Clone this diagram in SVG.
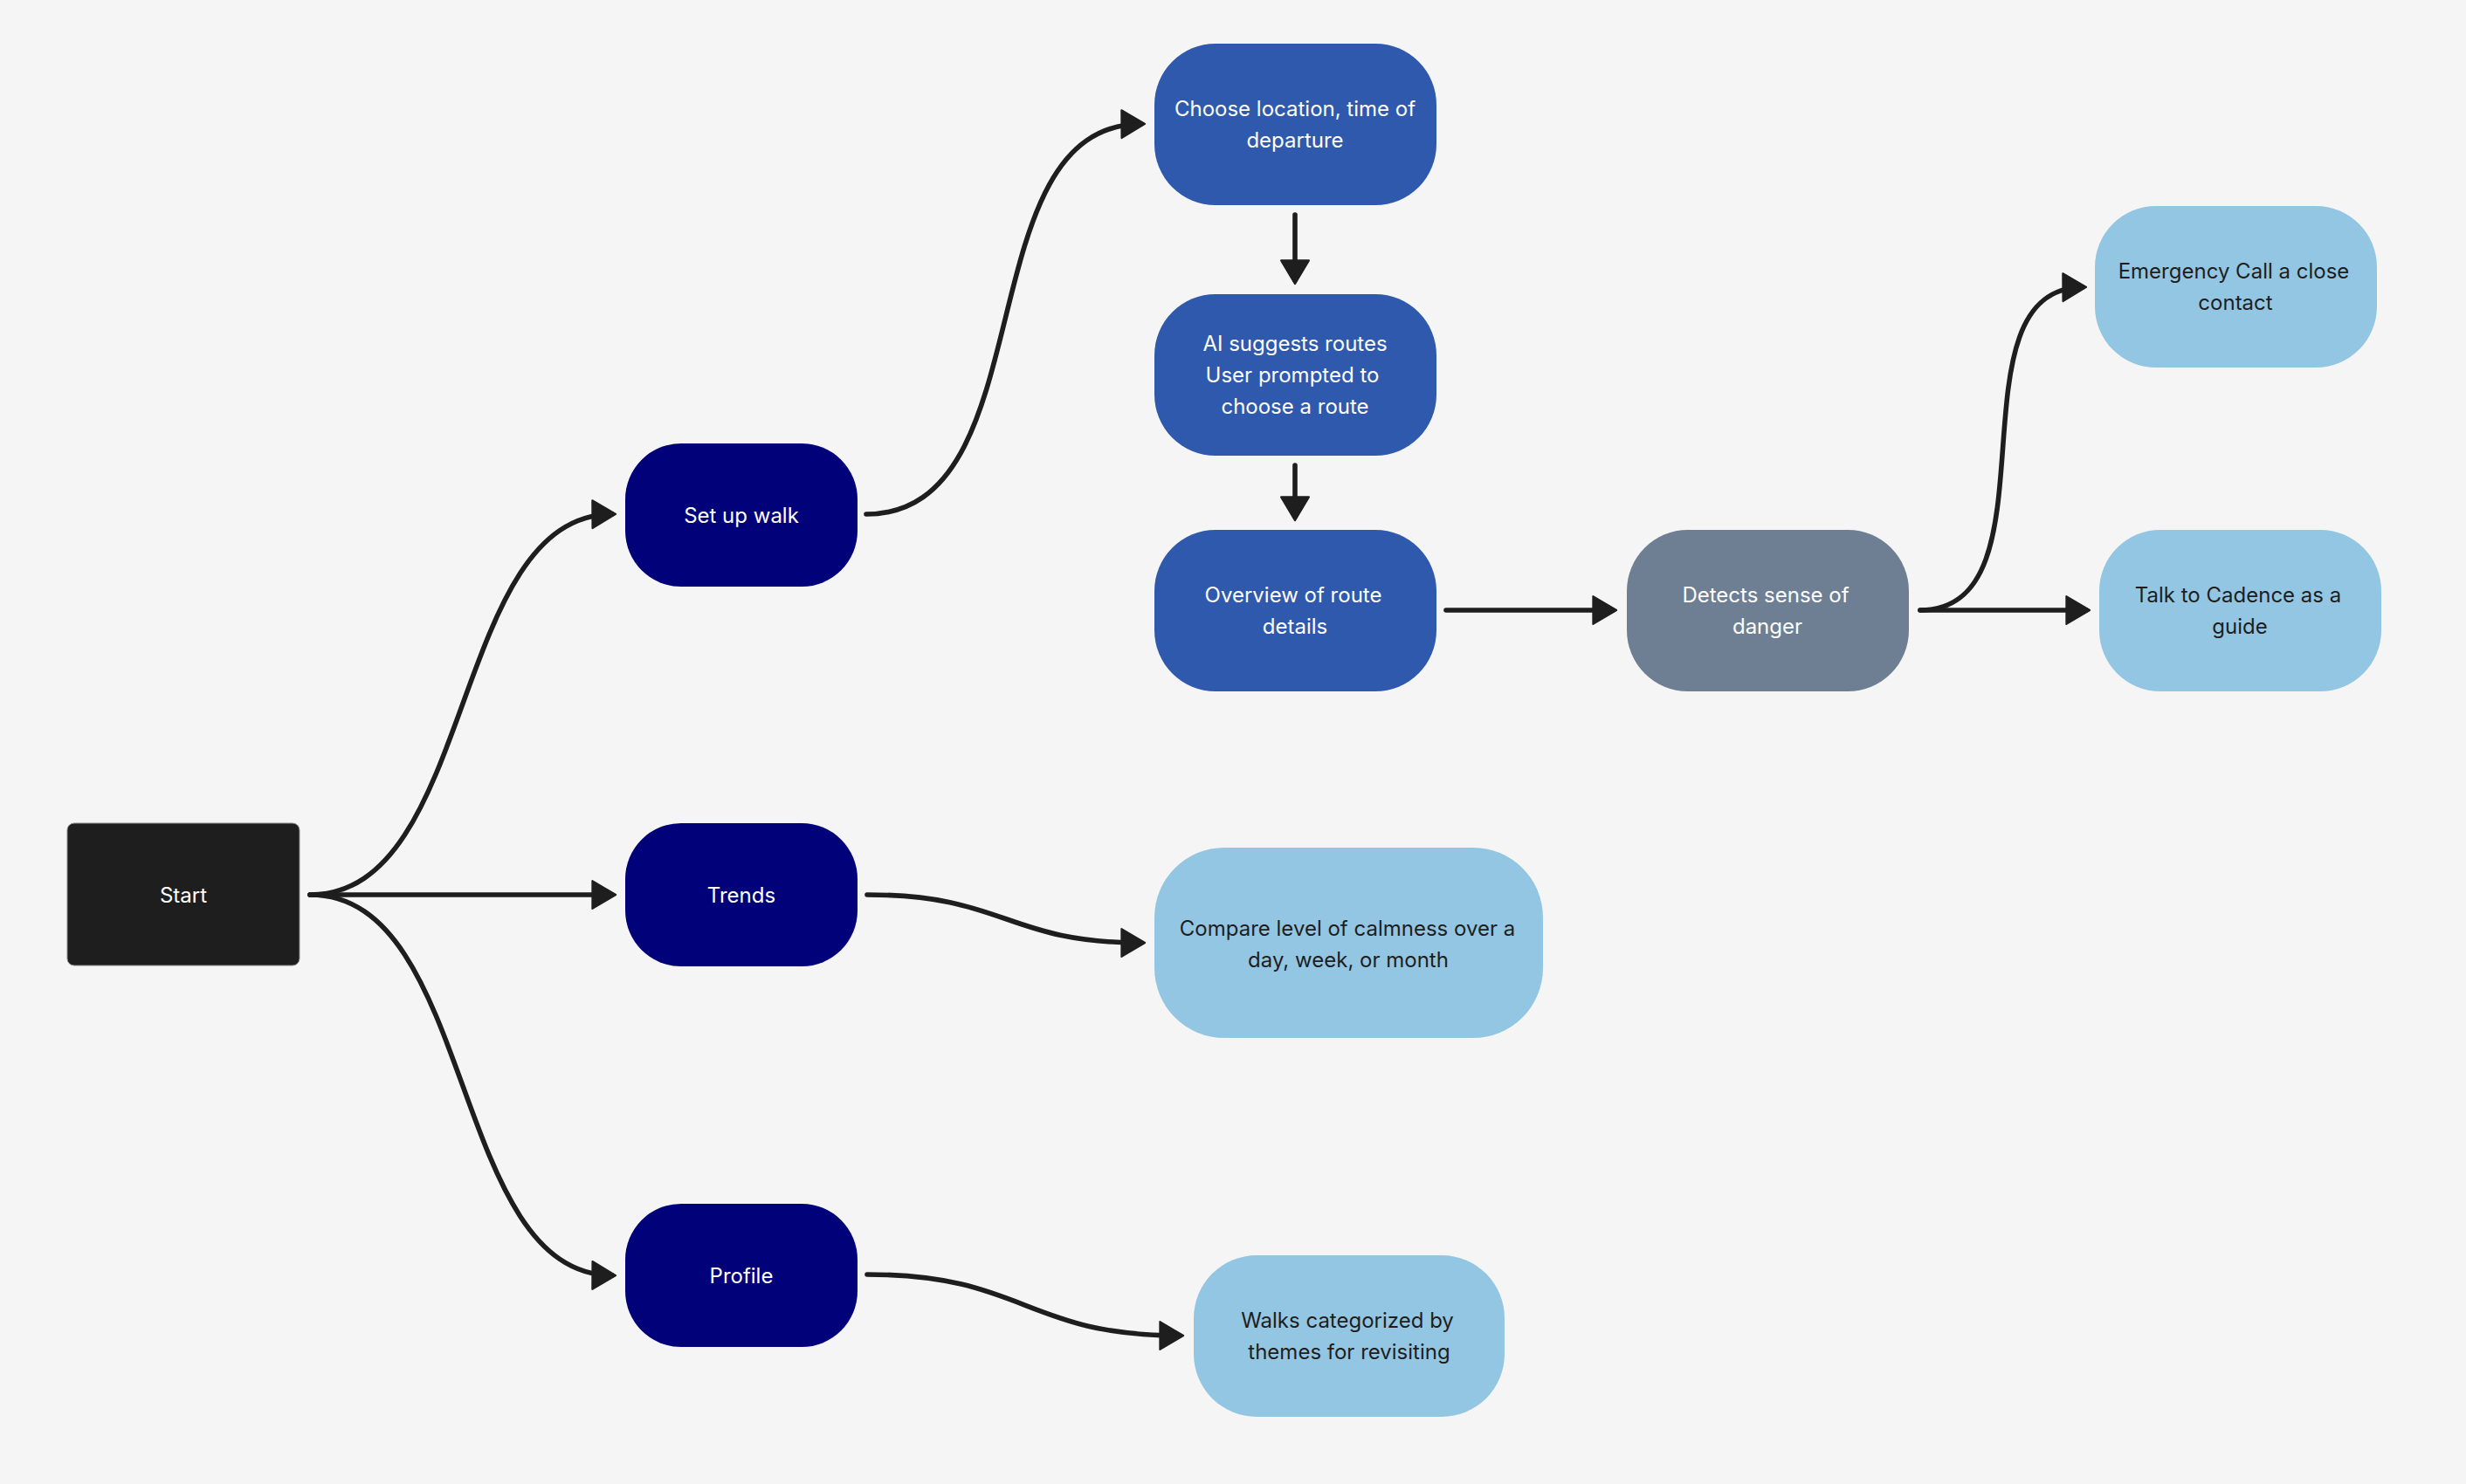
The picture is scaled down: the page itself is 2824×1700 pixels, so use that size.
<svg xmlns="http://www.w3.org/2000/svg" width="2824" height="1700" viewBox="0 0 2824 1700">
<defs>
<style>
.lbl{font-family:Inter,"Noto Sans","Liberation Sans",sans-serif;font-size:24px;text-anchor:middle;dominant-baseline:central}
.w{fill:#ffffff}
.d{fill:#1e1e1e}
.navy{fill:#01017a}
.mid{fill:#2e59ad}
.grey{fill:#6e7f94}
.light{fill:#93c6e2}
.edge{fill:none;stroke:#1e1e1e;stroke-width:5.6;stroke-linecap:round;marker-end:url(#arr)}
</style>
<marker id="arr" markerUnits="userSpaceOnUse" markerWidth="32" markerHeight="36" viewBox="-2 -2 30 35" refX="22" refY="15.5" orient="auto">
<path d="M0,0 L26,15.5 L0,31 Z" fill="#1e1e1e" stroke="#1e1e1e" stroke-width="2" stroke-linejoin="round"/>
</marker>
</defs>
<rect width="2824" height="1700" fill="#f5f5f5"/>
<g id="connectors">
<path class="edge" d="M355,1025 C545,1025 515,590 701,589"/>
<path class="edge" d="M355,1025 L701,1025"/>
<path class="edge" d="M355,1025 C545,1025 515,1460 701,1461"/>
<path class="edge" d="M992,589 C1199,589 1104,143 1307,142"/>
<path class="edge" d="M1483,246 L1483,321"/>
<path class="edge" d="M1483,533 L1483,592"/>
<path class="edge" d="M1656,699 L1847,699"/>
<path class="edge" d="M2199,699 C2360,699 2228,330 2385,329"/>
<path class="edge" d="M2199,699 L2389,699"/>
<path class="edge" d="M993,1025 C1152,1025 1152,1080 1307,1080"/>
<path class="edge" d="M993,1460 C1174,1460 1174,1530 1351,1530"/>
</g>
<g id="start">
<rect x="77" y="943" width="266" height="163" rx="8" fill="#1e1e1e" stroke="#8a8a8a" stroke-width="1"/>
<text class="lbl w" x="210" y="1025">Start</text>
</g>
<g id="setup">
<rect class="navy" x="716" y="508" width="266" height="164" rx="64"/>
<text class="lbl w" x="849" y="590">Set up walk</text>
</g>
<g id="trends">
<rect class="navy" x="716" y="943" width="266" height="164" rx="64"/>
<text class="lbl w" x="849" y="1025">Trends</text>
</g>
<g id="profile">
<rect class="navy" x="716" y="1379" width="266" height="164" rx="64"/>
<text class="lbl w" x="849" y="1461">Profile</text>
</g>
<g id="choose">
<rect class="mid" x="1322" y="50" width="323" height="185" rx="70"/>
<text class="lbl w" x="1483" y="124.5">Choose location, time of</text>
<text class="lbl w" x="1483" y="160.5">departure</text>
</g>
<g id="ai">
<rect class="mid" x="1322" y="337" width="323" height="185" rx="70"/>
<text class="lbl w" x="1483" y="393.5">AI suggests routes</text>
<text class="lbl w" x="1480" y="429.5">User prompted to</text>
<text class="lbl w" x="1483" y="465.5">choose a route</text>
</g>
<g id="overview">
<rect class="mid" x="1322" y="607" width="323" height="185" rx="70"/>
<text class="lbl w" x="1481" y="681.5">Overview of route</text>
<text class="lbl w" x="1483" y="717.5">details</text>
</g>
<g id="detects">
<rect class="grey" x="1863" y="607" width="323" height="185" rx="70"/>
<text class="lbl w" x="2022" y="681.5">Detects sense of</text>
<text class="lbl w" x="2024" y="717.5">danger</text>
</g>
<g id="emergency">
<rect class="light" x="2399" y="236" width="323" height="185" rx="70"/>
<text class="lbl d" x="2558" y="310.5">Emergency Call a close</text>
<text class="lbl d" x="2560" y="346.5">contact</text>
</g>
<g id="talk">
<rect class="light" x="2404" y="607" width="323" height="185" rx="70"/>
<text class="lbl d" x="2563" y="681.5">Talk to Cadence as a</text>
<text class="lbl d" x="2565" y="717.5">guide</text>
</g>
<g id="compare">
<rect class="light" x="1322" y="971" width="445" height="218" rx="80"/>
<text class="lbl d" x="1543" y="1063">Compare level of calmness over a</text>
<text class="lbl d" x="1544" y="1099">day, week, or month</text>
</g>
<g id="walks">
<rect class="light" x="1367" y="1438" width="356" height="185" rx="72"/>
<text class="lbl d" x="1543" y="1512.5">Walks categorized by</text>
<text class="lbl d" x="1545" y="1548.5">themes for revisiting</text>
</g>
</svg>
